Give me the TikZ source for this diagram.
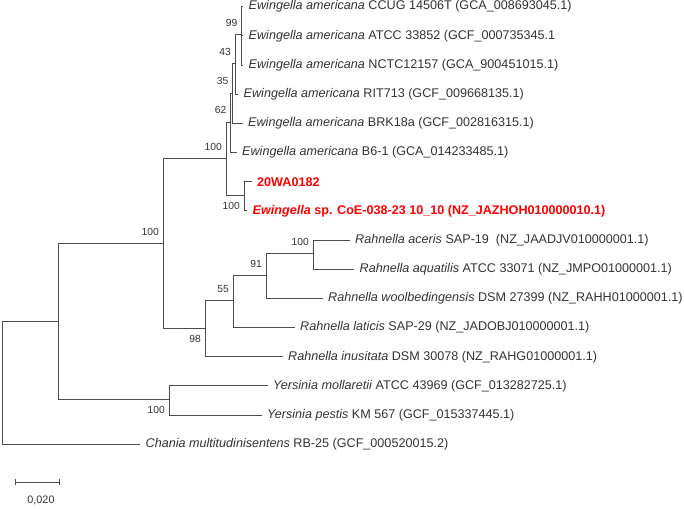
\documentclass[tikz,border=0pt]{standalone}
\usepackage{fontspec}
\setmainfont{Liberation Sans}
\usepackage{tikz}
\usetikzlibrary{arrows.meta,positioning}
\definecolor{tline}{HTML}{4D4D4D}
\definecolor{ttext}{HTML}{333333}
\definecolor{thit}{HTML}{FF0000}
\tikzset{
  br/.style={draw=tline, line width=0.9pt},
  leaf/.style={anchor=west, inner xsep=5.5pt, inner ysep=0pt, text=ttext, yshift=-1.2pt,
               font=\fontsize{12.6}{14}\selectfont},
  hit/.style={leaf, text=thit, font=\fontsize{12.6}{14}\selectfont\bfseries},
  bsup/.style={inner sep=0pt, text=ttext, font=\fontsize{10.3}{12}\selectfont},
}

\begin{document}
\begin{tikzpicture}[x=1pt, y=-1pt]
  \useasboundingbox (0,0) rectangle (684,508);
  \coordinate (root) at (2,382.2);
  \coordinate (nA) at (58,321.35);
  \coordinate (nB) at (163,243.4);
  \coordinate (nC) at (226,158.64);
  \coordinate (n62) at (230.5,122.18);
  \coordinate (n35) at (232.5,93.01);
  \coordinate (n43) at (235,63.84);
  \coordinate (n99) at (241.5,34.67);
  \coordinate (nR) at (244,195.1);
  \coordinate (nD) at (205,328.2);
  \coordinate (nE) at (233,300.8);
  \coordinate (nF) at (266,275.3);
  \coordinate (nG) at (313,253.45);
  \coordinate (nY) at (169,399.3);

  \node[leaf] (t0) at (243,5.5) {\textit{Ewingella americana} CCUG 14506T (GCA\_008693045.1)};
  \node[leaf] (t1) at (243,34.67) {\textit{Ewingella americana} ATCC 33852 (GCF\_000735345.1};
  \node[leaf] (t2) at (243,63.84) {\textit{Ewingella americana} NCTC12157 (GCA\_900451015.1)};
  \node[leaf] (t3) at (238,93.01) {\textit{Ewingella americana} RIT713 (GCF\_009668135.1)};
  \node[leaf] (t4) at (242.5,122.18) {\textit{Ewingella americana} BRK18a (GCF\_002816315.1)};
  \node[leaf] (t5) at (236.5,151.35) {\textit{Ewingella americana} B6-1 (GCA\_014233485.1)};
  \node[hit] (t6) at (251.5,180.52) {20WA0182};
  \node[hit] (t7) at (247,209.69) {\textit{Ewingella} sp. CoE-038-23 10\_10 (NZ\_JAZHOH010000010.1)};
  \node[leaf] (t8) at (349.5,238.86) {\textit{Rahnella aceris} SAP-19\ \ (NZ\_JAADJV010000001.1)};
  \node[leaf] (t9) at (354,268.03) {\textit{Rahnella aquatilis} ATCC 33071 (NZ\_JMPO01000001.1)};
  \node[leaf] (t10) at (322.5,297.2) {\textit{Rahnella woolbedingensis} DSM 27399 (NZ\_RAHH01000001.1)};
  \node[leaf] (t11) at (294.5,326.37) {\textit{Rahnella laticis} SAP-29 (NZ\_JADOBJ010000001.1)};
  \node[leaf] (t12) at (282.5,355.54) {\textit{Rahnella inusitata} DSM 30078 (NZ\_RAHG01000001.1)};
  \node[leaf] (t13) at (267.5,384.71) {\textit{Yersinia mollaretii} ATCC 43969 (GCF\_013282725.1)};
  \node[leaf] (t14) at (261.5,413.88) {\textit{Yersinia pestis} KM 567 (GCF\_015337445.1)};
  \node[leaf] (t15) at (140,443.05) {\textit{Chania multitudinisentens} RB-25 (GCF\_000520015.2)};

  \draw[br] (root) |- (nA);
  \draw[br] (root) |- (t15);
  \draw[br] (nA) |- (nB);
  \draw[br] (nA) |- (nY);
  \draw[br] (nB) |- (nC);
  \draw[br] (nB) |- (nD);
  \draw[br] (nC) |- (n62);
  \draw[br] (nC) |- (nR);
  \draw[br] (n62) |- (n35);
  \draw[br] (n62) |- (t5);
  \draw[br] (n35) |- (n43);
  \draw[br] (n35) |- (t4);
  \draw[br] (n43) |- (n99);
  \draw[br] (n43) |- (t3);
  \draw[br] (n99) |- (t0);
  \draw[br] (n99) |- (t1);
  \draw[br] (n99) |- (t2);
  \draw[br] (nR) |- (t6);
  \draw[br] (nR) |- (t7);
  \draw[br] (nD) |- (nE);
  \draw[br] (nD) |- (t12);
  \draw[br] (nE) |- (nF);
  \draw[br] (nE) |- (t11);
  \draw[br] (nF) |- (nG);
  \draw[br] (nF) |- (t10);
  \draw[br] (nG) |- (t8);
  \draw[br] (nG) |- (t9);
  \draw[br] (nY) |- (t13);
  \draw[br] (nY) |- (t14);

  \node[bsup, above left=8pt and 4pt of n99] (s99) {99};
  \node[bsup, above left=8pt and 4pt of n43] (s43) {43};
  \node[bsup, above left=8pt and 4pt of n35] (s35) {35};
  \node[bsup, above left=8pt and 4pt of n62] (s62) {62};
  \node[bsup, above left=8pt and 4pt of nC] (sC) {100};
  \node[bsup, below left=7pt and 4pt of nR] (sR) {100};
  \node[bsup, above left=8pt and 4pt of nB] (sB) {100};
  \node[bsup, above left=8pt and 4pt of nG] (sG) {100};
  \node[bsup, above left=8pt and 4pt of nF] (sF) {91};
  \node[bsup, above left=8pt and 4pt of nE] (sE) {55};
  \node[bsup, below left=7pt and 4pt of nD] (sD) {98};
  \node[bsup, below left=7pt and 4pt of nY] (sY) {100};

  \coordinate (sb1) at (15,482);
  \coordinate (sb2) at (60,482);
  \draw[br, {Bar[width=6pt]}-{Bar[width=6pt]}] (sb1) -- (sb2);
  \node[bsup, font=\fontsize{10.8}{12}\selectfont] (sbl) at (41,500) {0,020};
\end{tikzpicture}
\end{document}
